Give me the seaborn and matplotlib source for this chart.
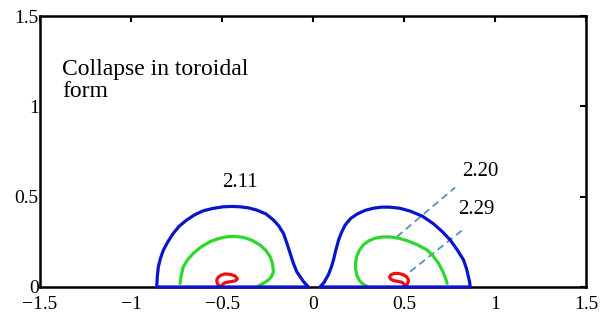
import matplotlib
matplotlib.use("Agg")
import matplotlib.pyplot as plt
import seaborn as sns

# ---- data ----
blue_left_x = [-0.026, -0.053, -0.07, -0.09, -0.108, -0.126, -0.145, -0.163, -0.19, -0.218, -0.26,
               -0.31, -0.355, -0.401, -0.447, -0.493, -0.55, -0.603, -0.65, -0.694, -0.735,
               -0.768, -0.798, -0.822, -0.838, -0.85, -0.856, -0.859, -0.026]
blue_left_y = [0.0, 0.03, 0.055, 0.085, 0.13, 0.186, 0.245, 0.297, 0.34, 0.371, 0.405,
               0.426, 0.438, 0.444, 0.446, 0.444, 0.435, 0.422, 0.4, 0.371, 0.337,
               0.297, 0.25, 0.205, 0.16, 0.112, 0.055, 0.0, 0.0]
blue_right_x = [0.038, 0.06, 0.085, 0.10, 0.112, 0.125, 0.14, 0.155, 0.176, 0.205, 0.24, 0.285,
                0.331, 0.375, 0.42, 0.475, 0.533, 0.60, 0.661, 0.71, 0.753, 0.792, 0.826,
                0.843, 0.853, 0.86, 0.863, 0.038]
blue_right_y = [0.0, 0.025, 0.07, 0.11, 0.15, 0.205, 0.26, 0.30, 0.343, 0.378, 0.403, 0.424,
                0.436, 0.442, 0.442, 0.436, 0.42, 0.392, 0.35, 0.306, 0.26, 0.205, 0.15,
                0.10, 0.057, 0.025, 0.0, 0.0]

green_left_x = [-0.731, -0.725, -0.713, -0.69, -0.658, -0.615, -0.566, -0.52, -0.475, -0.43, -0.383,
                -0.335, -0.291, -0.26, -0.236, -0.222, -0.218, -0.228, -0.245, -0.27, -0.291, -0.306]
green_left_y = [0.02, 0.06, 0.112, 0.15, 0.186, 0.222, 0.251, 0.268, 0.278, 0.28, 0.275,
                0.258, 0.232, 0.203, 0.168, 0.125, 0.085, 0.058, 0.039, 0.022, 0.011, 0.0]
green_right_x = [0.30, 0.275, 0.255, 0.24, 0.233, 0.233, 0.24, 0.255, 0.275, 0.305, 0.34, 0.38,
                 0.42, 0.47, 0.52, 0.57, 0.626, 0.66, 0.69, 0.715, 0.73, 0.736]
green_right_y = [0.0, 0.015, 0.035, 0.065, 0.10, 0.135, 0.17, 0.205, 0.232, 0.255, 0.27, 0.277,
                 0.277, 0.27, 0.255, 0.235, 0.205, 0.17, 0.13, 0.08, 0.04, 0.02]

red_left_x = [-0.51, -0.522, -0.529, -0.528, -0.52, -0.505, -0.484, -0.455, -0.429, -0.416,
              -0.425, -0.447, -0.47, -0.488, -0.5, -0.505]
red_left_y = [0.0, 0.012, 0.03, 0.043, 0.055, 0.066, 0.072, 0.07, 0.061, 0.045,
              0.035, 0.03, 0.027, 0.022, 0.01, 0.0]
red_right_x = [0.51, 0.515, 0.522, 0.524, 0.515, 0.495, 0.47, 0.447, 0.428, 0.42, 0.425, 0.44,
               0.465, 0.488, 0.5, 0.505]
red_right_y = [0.0, 0.012, 0.025, 0.04, 0.055, 0.068, 0.075, 0.075, 0.068, 0.055, 0.044, 0.036,
               0.031, 0.026, 0.015, 0.0]

leader1_x = [0.46, 0.78]
leader1_y = [0.278, 0.551]
leader2_x = [0.533, 0.82]
leader2_y = [0.085, 0.315]

labels = ["2.11", "2.20", "2.29"]
label_x = [-0.40, 0.92, 0.895]
label_y = [0.58, 0.64, 0.43]

xticks = [-1.5, -1, -0.5, 0, 0.5, 1, 1.5]
xticklabels = ["\u22121.5", "\u22121", "\u22120.5", "0", "0.5", "1", "1.5"]
yticks = [0, 0.5, 1, 1.5]
yticklabels = ["0", "0.5", "1", "1.5"]

title_text = "Collapse in toroidal\nform"

# ---- plot ----
sns.set_theme(style="white")
plt.rcParams['font.family'] = ['Liberation Serif', 'DejaVu Serif']

fig = plt.figure(figsize=(6.0, 3.21), dpi=100)
ax = fig.add_axes([0.0667, 0.106, 0.9103, 0.844])

BLUE = "#0a14c8"
GREEN = "#2ed62e"
RED = "#ee1111"
DASH = "#5a8cc4"

for xs, ys, c in [(green_left_x, green_left_y, GREEN), (green_right_x, green_right_y, GREEN),
                  (red_left_x, red_left_y, RED), (red_right_x, red_right_y, RED),
                  (blue_left_x, blue_left_y, BLUE), (blue_right_x, blue_right_y, BLUE)]:
    sns.lineplot(x=xs, y=ys, sort=False, estimator=None, color=c, linewidth=2.3, ax=ax)
for line in ax.lines:
    line.set_clip_on(False)
    line.set_zorder(5)
    line.set_solid_joinstyle("round")
    line.set_solid_capstyle("round")

for xs, ys in [(leader1_x, leader1_y), (leader2_x, leader2_y)]:
    sns.lineplot(x=xs, y=ys, sort=False, estimator=None, color=DASH, linewidth=1.3,
                 linestyle=(0, (4, 2.5)), ax=ax)

for t, x, y in zip(labels, label_x, label_y):
    ax.text(x, y, t, fontsize=15, ha="center", va="center", color="black")

ax.text(-1.38, 1.145, title_text, fontsize=17, ha="left", va="center",
        linespacing=1.05, color="black")

ax.set_xlim(-1.5, 1.5)
ax.set_ylim(0, 1.5)
ax.set_xticks(xticks)
ax.set_xticklabels(xticklabels)
ax.set_yticks(yticks)
ax.set_yticklabels(yticklabels)
ax.tick_params(direction="in", length=4, width=1.5, top=True, right=True,
               labelsize=14, colors="black", pad=1)
ax.tick_params(axis="x", pad=6.5)
for s in ax.spines.values():
    s.set_visible(True)
    s.set_color("black")
    s.set_linewidth(1.8)
ax.grid(False)
ax.set_facecolor("white")
fig.patch.set_facecolor("white")

fig.savefig("out.png", dpi=100, facecolor="white")
